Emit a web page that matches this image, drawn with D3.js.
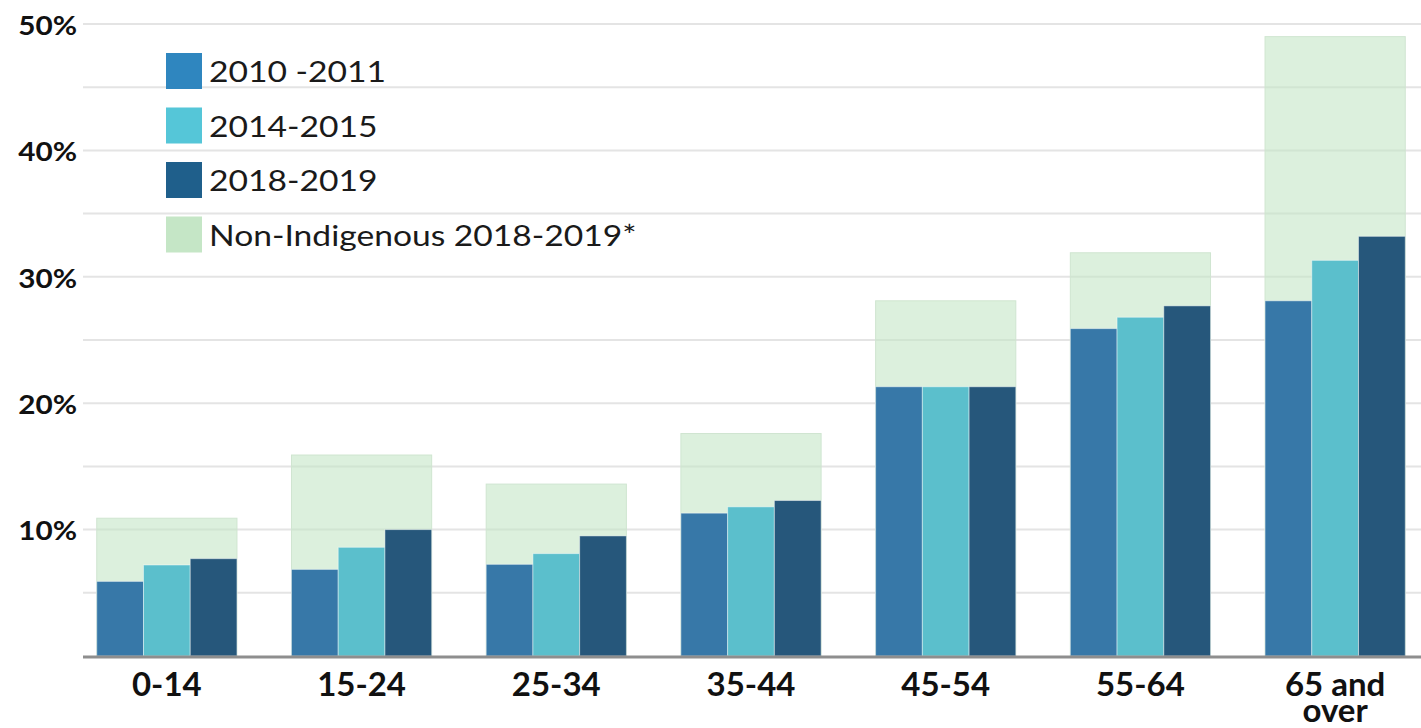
<!DOCTYPE html>
<html>
<head>
<meta charset="utf-8">
<script src="https://cdn.jsdelivr.net/npm/d3@7"></script>
<style>
  html, body { margin: 0; padding: 0; background: #fff; }
  svg { display: block; }
</style>
</head>
<body>
<svg id="chart" width="1421" height="728"></svg>
<script>
// Age groups and rates (%) by survey period
const ageGroups = ["0-14", "15-24", "25-34", "35-44", "45-54", "55-64", "65 and over"];
const seriesNames = ["2010 -2011", "2014-2015", "2018-2019"];
const rate2010 = [5.9, 6.85, 7.25, 11.3, 21.3, 25.9, 28.1];
const rate2014 = [7.2, 8.6, 8.1, 11.8, 21.3, 26.8, 31.3];
const rate2018 = [7.7, 10.0, 9.5, 12.3, 21.3, 27.7, 33.2];
const nonIndigenous2018 = [10.9, 15.9, 13.6, 17.6, 28.1, 31.9, 49.0];
const nonIndigenousName = "Non-Indigenous 2018-2019*";
const yTicks = [10, 20, 30, 40, 50];
const gridTicks = [5, 10, 15, 20, 25, 30, 35, 40, 45, 50];

const barColors = ["#3778a8", "#5bbfcc", "#26577b"];
const legendColors = ["#2f86bf", "#55c6d8", "#1f5f8b"];
const greenFill = "#c5e6c6";

const svg = d3.select("#chart");
const W = 1421;
const fontFamily = "Lato, 'Open Sans', sans-serif";

// widen text horizontally by a factor, keeping its font size
function widen(sel, factor) {
  sel.each(function() {
    const n = this.getComputedTextLength();
    d3.select(this).attr("textLength", n * factor).attr("lengthAdjust", "spacingAndGlyphs");
  });
}

const x0 = d3.scaleBand().domain(ageGroups).range([69.5, 1432.5])
  .paddingInner(0.28).paddingOuter(0.14);
const x1 = d3.scaleBand().domain(seriesNames).range([0, x0.bandwidth()]);
const y = d3.scaleLinear().domain([0, 50]).range([656, 24]);

// gridlines
svg.append("g").selectAll("line").data(gridTicks).join("line")
  .attr("x1", 83).attr("x2", W)
  .attr("y1", d => y(d)).attr("y2", d => y(d))
  .attr("stroke", "#e4e4e4").attr("stroke-width", 2);

// y tick labels
const yl = svg.append("g").selectAll("text").data(yTicks).join("text")
  .attr("x", 77).attr("y", d => y(d) + 1)
  .attr("dy", "0.36em")
  .attr("text-anchor", "end")
  .attr("font-family", fontFamily).attr("font-weight", 700)
  .attr("font-size", 27).attr("fill", "#111")
  .text(d => d + "%");
widen(yl, 1.1);

// non-Indigenous comparison backdrop
svg.append("g").selectAll("rect").data(ageGroups).join("rect")
  .attr("x", d => x0(d))
  .attr("y", (d, i) => y(nonIndigenous2018[i]))
  .attr("width", x0.bandwidth())
  .attr("height", (d, i) => y(0) - y(nonIndigenous2018[i]))
  .attr("fill", greenFill).attr("fill-opacity", 0.6)
  .attr("stroke", "#cfe5d0").attr("stroke-width", 1);

// grouped bars
const seriesValues = [rate2010, rate2014, rate2018];
const groups = svg.append("g").selectAll("g").data(ageGroups).join("g")
  .attr("transform", d => `translate(${x0(d)},0)`);
groups.selectAll("rect")
  .data((d, i) => seriesNames.map((s, k) => ({ s, k, v: seriesValues[k][i] })))
  .join("rect")
  .attr("x", d => x1(d.s))
  .attr("y", d => y(d.v))
  .attr("width", x1.bandwidth())
  .attr("height", d => y(0) - y(d.v))
  .attr("fill", d => barColors[d.k])
  .attr("stroke", "rgba(255,255,255,0.45)").attr("stroke-width", 1);

// baseline
svg.append("line")
  .attr("x1", 83).attr("x2", W).attr("y1", y(0) + 1).attr("y2", y(0) + 1)
  .attr("stroke", "#8e8e8e").attr("stroke-width", 3);

// x labels
const xl = svg.append("g").selectAll("text").data(ageGroups).join("text")
  .attr("x", d => x0(d) + x0.bandwidth() / 2)
  .attr("y", 696)
  .attr("text-anchor", "middle")
  .attr("font-family", fontFamily).attr("font-weight", 700)
  .attr("font-size", 33).attr("fill", "#111");
xl.each(function(d) {
  const parts = d === "65 and over" ? ["65 and", "over"] : [d];
  const t = d3.select(this);
  parts.forEach((p, i) => {
    t.append("tspan").attr("x", x0(d) + x0.bandwidth() / 2)
      .attr("dy", i === 0 ? 0 : 26).text(p);
  });
});

// legend
const legendItems = seriesNames.map((n, i) => ({ name: n, color: legendColors[i] }))
  .concat([{ name: nonIndigenousName, color: greenFill }]);
const lg = svg.append("g").selectAll("g").data(legendItems).join("g")
  .attr("transform", (d, i) => `translate(166,${53 + i * 54.5})`);
lg.append("rect").attr("width", 36).attr("height", 36)
  .attr("fill", d => d.color);
const lt = lg.append("text").attr("x", 43).attr("y", 19).attr("dy", "0.36em")
  .attr("font-family", fontFamily).attr("font-size", 28).attr("fill", "#1a1a1a")
  .text(d => d.name);
widen(lt, 1.2);
</script>
</body>
</html>
